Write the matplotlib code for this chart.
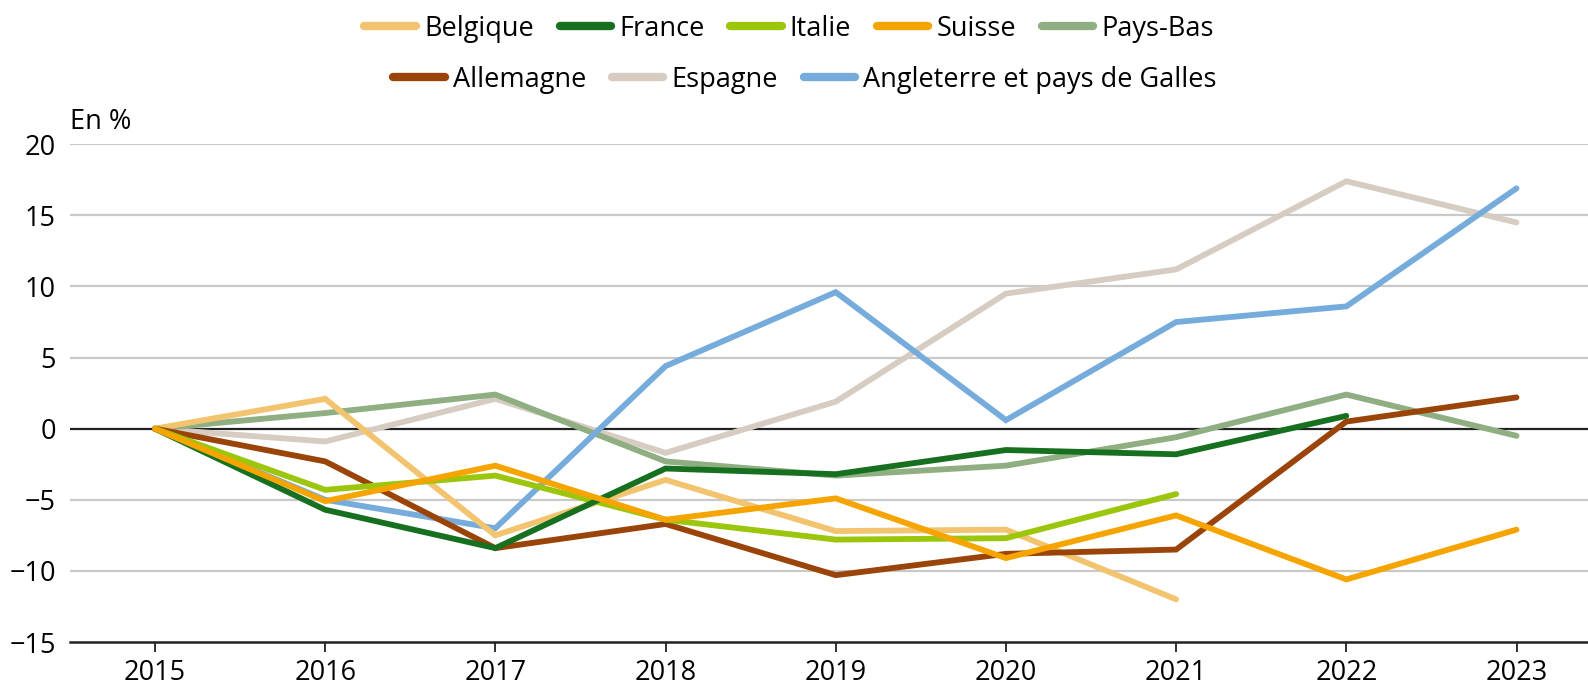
import matplotlib.pyplot as plt
from matplotlib.lines import Line2D

plt.rcParams['font.family'] = ['Open Sans', 'DejaVu Sans']

years = [2015, 2016, 2017, 2018, 2019, 2020, 2021, 2022, 2023]

# evolution en % depuis 2015
belgique = [0, 2.1, -7.5, -3.6, -7.2, -7.1, -12.0]
france = [0, -5.7, -8.4, -2.8, -3.2, -1.5, -1.8, 0.9]
italie = [0, -4.3, -3.3, -6.4, -7.8, -7.7, -4.6]
suisse = [0, -5.1, -2.6, -6.4, -4.9, -9.1, -6.1, -10.6, -7.1]
pays_bas = [0, 1.1, 2.4, -2.3, -3.3, -2.6, -0.6, 2.4, -0.5]
allemagne = [0, -2.3, -8.4, -6.7, -10.3, -8.8, -8.5, 0.5, 2.2]
espagne = [0, -0.9, 2.1, -1.7, 1.9, 9.5, 11.2, 17.4, 14.5]
angleterre = [0, -5.0, -7.0, 4.4, 9.6, 0.6, 7.5, 8.6, 16.9]

series = [
    ("Belgique", belgique, "#f3c46f"),
    ("France", france, "#17701f"),
    ("Italie", italie, "#9cc60c"),
    ("Suisse", suisse, "#f6a500"),
    ("Pays-Bas", pays_bas, "#8fae82"),
    ("Allemagne", allemagne, "#9b4409"),
    ("Espagne", espagne, "#d6ccc2"),
    ("Angleterre et pays de Galles", angleterre, "#76acdc"),
]

fs = 19.5

fig = plt.figure(figsize=(15.88, 6.87), dpi=100)
ax = fig.add_axes([0.044, 0.0655, 0.956, 0.7245])

yticks = [-15, -10, -5, 0, 5, 10, 15, 20]
for v in yticks:
    if v == 0:
        ax.axhline(v, color="#222222", lw=1.6, zorder=1)
    elif v != -15:
        ax.axhline(v, color="#c9c9c9", lw=1.6, zorder=0)

# ordre de trace : les lignes claires dessous
draw_order = [6, 4, 7, 0, 5, 2, 1, 3]
for i in draw_order:
    name, vals, col = series[i]
    ax.plot(years[:len(vals)], vals, color=col, lw=4.2, solid_capstyle="round",
            solid_joinstyle="miter", zorder=3)

ax.set_xlim(2014.5, 2023.42)
ax.set_ylim(-15, 20)
ax.set_xticks(years)
ax.set_yticks(yticks)
ax.tick_params(axis="x", length=7, width=1.3, color="#222222", labelsize=fs, pad=5)
ax.tick_params(axis="y", length=0, labelsize=fs, pad=10)
for s in ["top", "right", "left"]:
    ax.spines[s].set_visible(False)
ax.spines["bottom"].set_color("#222222")
ax.spines["bottom"].set_linewidth(1.8)
ax.set_facecolor("none")

fig.text(0.044, 0.822, "En %", fontsize=fs, ha="left", va="center")

handles = [Line2D([], [], color=c, lw=6, solid_capstyle="round") for _, _, c in series]
labels = [n for n, _, _ in series]
kw = dict(frameon=False, fontsize=fs, handlelength=1.9, handletextpad=0.3, columnspacing=0.95)
leg1 = fig.legend(handles[:5], labels[:5], ncol=5, loc="center", bbox_to_anchor=(0.497, 0.958), **kw)
leg2 = fig.legend(handles[5:], labels[5:], ncol=3, loc="center", bbox_to_anchor=(0.507, 0.884), **kw)

fig.savefig("out.png", dpi=100)
